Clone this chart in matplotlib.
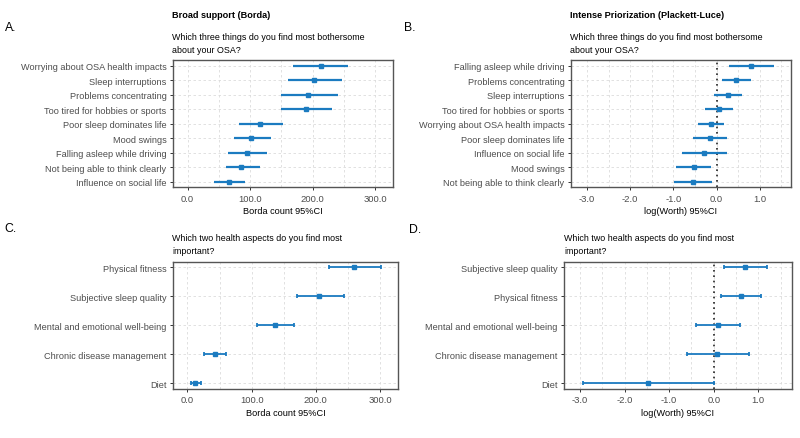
import numpy as np
import matplotlib
matplotlib.use('Agg')
import matplotlib.pyplot as plt
from matplotlib.ticker import MultipleLocator, FormatStrFormatter

plt.rcParams['font.family'] = ['Liberation Sans', 'DejaVu Sans']

# bothersome items, Borda (top to bottom)
bother_borda = ['Worrying about OSA health impacts', 'Sleep interruptions',
                'Problems concentrating', 'Too tired for hobbies or sports',
                'Poor sleep dominates life', 'Mood swings',
                'Falling asleep while driving', 'Not being able to think clearly',
                'Influence on social life']
borda_est = [213, 202, 193, 189, 116, 102, 95, 86, 66]
borda_lo = [169, 160, 149, 150, 82, 74, 64, 62, 42]
borda_hi = [257, 247, 240, 231, 152, 134, 127, 116, 92]

# bothersome items, Plackett-Luce (top to bottom)
bother_pl = ['Falling asleep while driving', 'Problems concentrating',
             'Sleep interruptions', 'Too tired for hobbies or sports',
             'Worrying about OSA health impacts', 'Poor sleep dominates life',
             'Influence on social life', 'Mood swings',
             'Not being able to think clearly']
pl_est = [0.81, 0.46, 0.27, 0.05, -0.12, -0.15, -0.28, -0.53, -0.54]
pl_lo = [0.30, 0.12, -0.06, -0.26, -0.42, -0.55, -0.79, -0.93, -0.99]
pl_hi = [1.33, 0.80, 0.60, 0.38, 0.17, 0.24, 0.24, -0.12, -0.10]

# health aspects, Borda
health_borda = ['Physical fitness', 'Subjective sleep quality',
                'Mental and emotional well-being', 'Chronic disease management', 'Diet']
hb_est = [259, 205, 137, 43, 12]
hb_lo = [221, 170, 109, 25, 5]
hb_hi = [301, 244, 166, 60, 21]

# health aspects, Plackett-Luce
health_pl = ['Subjective sleep quality', 'Physical fitness',
             'Mental and emotional well-being', 'Chronic disease management', 'Diet']
hp_est = [0.71, 0.61, 0.10, 0.08, -1.48]
hp_lo = [0.23, 0.16, -0.40, -0.61, -2.94]
hp_hi = [1.19, 1.07, 0.60, 0.79, 0.00]

W, H = 800, 439
blue = '#1b7bc0'
fs = 6.6

fig = plt.figure(figsize=(W / 100, H / 100), dpi=100)


def box(l, r, t, b):
    return [l / W, 1 - b / H, (r - l) / W, (b - t) / H]


def txt(x, y, s, **kw):
    fig.text(x / W, 1 - y / H, s, **kw)


def panel(rect, labels, est, lo, hi, xlim, major, xlabel, zero, lw, cap):
    ax = fig.add_axes(rect)
    n = len(labels)
    y = np.arange(n, 0, -1)
    est = np.array(est)
    err = [est - np.array(lo), np.array(hi) - est]
    ax.errorbar(est, y, xerr=err, fmt='s', color=blue, ms=2.4, lw=lw,
                capsize=cap, capthick=lw, zorder=3)
    if zero:
        ax.axvline(0, color='#222222', ls=(0, (1, 2.2)), lw=1.2, zorder=2)
    ax.set_xlim(*xlim)
    ax.set_ylim(0.6 if n > 5 else 0.8, n + 0.4 if n > 5 else n + 0.2)
    ax.set_yticks(y)
    ax.set_yticklabels(labels)
    ax.xaxis.set_major_locator(MultipleLocator(major))
    ax.xaxis.set_minor_locator(MultipleLocator(major / 2))
    ax.xaxis.set_major_formatter(FormatStrFormatter('%.1f'))
    ax.grid(True, which='both', axis='x', ls=(0, (3, 3)), color='#dcdcdc', lw=0.6)
    ax.grid(True, which='major', axis='y', ls=(0, (3, 3)), color='#dcdcdc', lw=0.6)
    ax.set_axisbelow(True)
    ax.tick_params(which='minor', length=0)
    ax.tick_params(which='major', labelsize=fs, labelcolor='#4d4d4d', color='#333333',
                   length=2.5, width=0.7, pad=2)
    ax.tick_params(axis='x', labelsize=6.8)
    for s in ax.spines.values():
        s.set_color('#555555')
        s.set_linewidth(1.0)
    ax.set_xlabel(xlabel, fontsize=6.6, labelpad=2.5)
    return ax


panel(box(172.7, 392.5, 61, 188.3), bother_borda, borda_est, borda_lo, borda_hi,
      (-24, 328), 100, 'Borda count 95%CI', False, 1.6, 0)
panel(box(570.7, 790.7, 61, 188.3), bother_pl, pl_est, pl_lo, pl_hi,
      (-3.38, 1.72), 1, 'log(Worth) 95%CI', True, 1.6, 0)
panel(box(172.7, 398, 262.7, 390), health_borda, hb_est, hb_lo, hb_hi,
      (-23, 328), 100, 'Borda count 95%CI', False, 1.3, 1.5)
panel(box(564, 791.7, 262.7, 390), health_pl, hp_est, hp_lo, hp_hi,
      (-3.36, 1.75), 1, 'log(Worth) 95%CI', True, 1.3, 1.5)

# titles and panel letters
bold = dict(fontsize=6.6, fontweight='bold', va='center')
txt(172, 15, 'Broad support (Borda)', **bold)
txt(570, 15, 'Intense Priorization (Plackett-Luce)', **bold)
q1 = 'Which three things do you find most bothersome\nabout your OSA?'
q2 = 'Which two health aspects do you find most\nimportant?'
txt(172, 44, q1, fontsize=6.4, va='center', linespacing=1.55)
txt(570.5, 44, q1, fontsize=6.4, va='center', linespacing=1.55)
txt(172, 245, q2, fontsize=6.4, va='center', linespacing=1.55)
txt(564.5, 245, q2, fontsize=6.4, va='center', linespacing=1.55)
txt(5, 28, 'A.', fontsize=8.8, va='center')
txt(404, 28, 'B.', fontsize=8.8, va='center')
txt(4, 229, 'C.', fontsize=8.8, va='center')
txt(409, 230, 'D.', fontsize=8.8, va='center')

fig.savefig('out.png', dpi=100)
